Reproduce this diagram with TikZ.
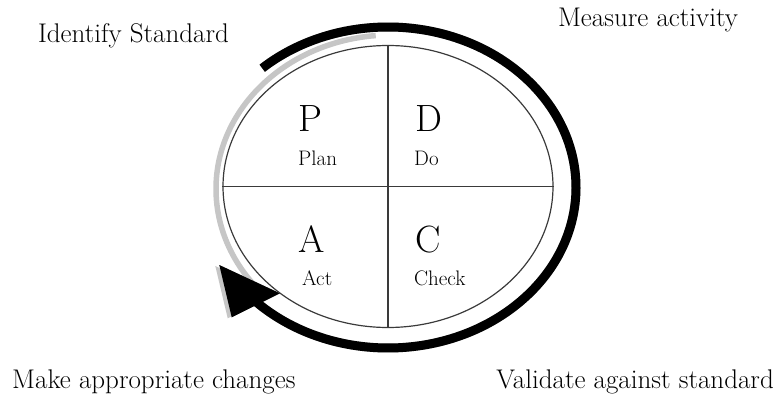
\documentclass[tikz,border=0pt]{standalone}
\usepackage{fontspec}
\usetikzlibrary{shapes.geometric}
\definecolor{ringgray}{HTML}{C6C6C6}
\definecolor{rim}{HTML}{3A3A3A}
\tikzset{
  outerlabel/.style={inner sep=0pt, font=\fontsize{27}{32}\selectfont},
  bigletter/.style={inner sep=0pt, anchor=base west, font=\fontsize{38}{44}\selectfont},
  smallword/.style={inner sep=0pt, anchor=base west, font=\fontsize{21}{25}\selectfont},
  blackband/.style={line width=9pt, draw=black},
  grayband/.style={line width=9pt, draw=ringgray},
  quadline/.style={line width=1.4pt, draw=rim},
}
\begin{document}
\begin{tikzpicture}[x=1pt,y=1pt]
\useasboundingbox (0,0) rectangle (779,405);
% named points of the cycle arrow
\coordinate (arcstart) at ({388+188*cos(132)},{217.5+160.5*sin(132)});
\coordinate (tip) at (219.3,140);
\coordinate (baseL) at (231.7,87.7);
\coordinate (baseR) at (280,111.7);
% gray shadow of the arrow
\begin{scope}[shift={(-3,-3)}]
  \draw[grayband] (arcstart) arc[start angle=132, end angle=-136, x radius=188, y radius=160.5];
  \fill[ringgray] (tip) -- (baseL) -- (baseR) -- cycle;
\end{scope}
\fill[ringgray] ([shift={(-4,-1)}]tip) -- ([shift={(-4,-1)}]baseL) -- ([shift={(-4,-1)}]baseR) -- cycle;
% gray rim on the left
\draw[line width=5.5pt, draw=ringgray] ({391+175*cos(95)},{216+154*sin(95)}) arc[start angle=95, end angle=222, x radius=175, y radius=154];
% black arrow
\draw[blackband] (arcstart) arc[start angle=132, end angle=-136, x radius=188, y radius=160.5];
\fill[black] (tip) -- (baseL) -- (baseR) -- cycle;
% the cycle
\node[ellipse, draw=rim, line width=1.2pt, minimum width=330pt, minimum height=282pt, inner sep=0pt] (cyc) at (388,218.5) {};
\draw[quadline] (cyc.north) -- (cyc.south);
\draw[quadline] (cyc.west) -- (cyc.east);
% quadrant labels
\node[bigletter] (P) at (298,273) {P};
\node[smallword] (plan) at (298,240) {Plan};
\node[bigletter] (D) at (415,273) {D};
\node[smallword] (do) at (414,240) {Do};
\node[bigletter] (A) at (298,153) {A};
\node[smallword] (act) at (302,120) {Act};
\node[bigletter] (C) at (415,153) {C};
\node[smallword] (check) at (414,120) {Check};
% outer labels
\node[outerlabel, anchor=base] (ident) at (133.5,362) {Identify Standard};
\node[outerlabel, anchor=base] (meas) at (648,378) {Measure activity};
\node[outerlabel, anchor=base west] (make) at (12,17) {Make appropriate changes};
\node[outerlabel, anchor=base east] (valid) at (774,17) {Validate against standard};
\end{tikzpicture}
\end{document}
